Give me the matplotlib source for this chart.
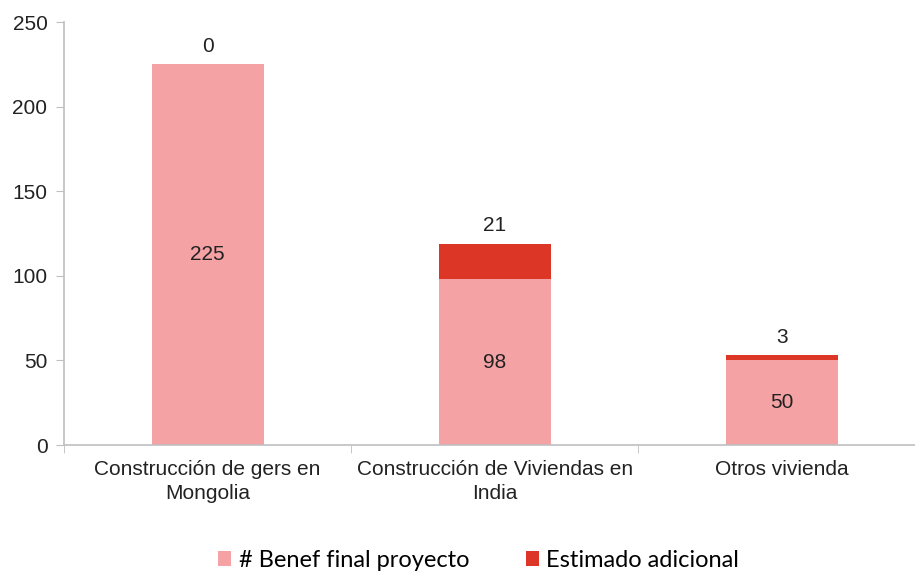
import numpy as np
import matplotlib.pyplot as plt

categories = ['Construcción de gers en\nMongolia', 'Construcción de Viviendas en\nIndia', 'Otros vivienda']
benef_final = [225, 98, 50]
estimado_adicional = [0, 21, 3]

plt.rcParams['font.family'] = ['Liberation Sans', 'DejaVu Sans']

fig = plt.figure(figsize=(9.15, 5.76), dpi=100)
ax = fig.add_axes([0.07, 0.2274, 0.935, 0.7344])

x = np.arange(len(categories))
pink = '#F5A2A5'
red = '#DC3626'
b1 = ax.bar(x, benef_final, width=0.39, color=pink, label='# Benef final proyecto')
b2 = ax.bar(x, estimado_adicional, width=0.39, bottom=benef_final, color=red, label='Estimado adicional')

for i in range(len(categories)):
    ax.text(x[i], benef_final[i] / 2, str(benef_final[i]), ha='center', va='center', fontsize=15, color='#222222')
    top = benef_final[i] + estimado_adicional[i]
    ax.text(x[i], top + 5, str(estimado_adicional[i]), ha='center', va='bottom', fontsize=15, color='#222222')

ax.set_ylim(0, 250)
ax.set_yticks(range(0, 251, 50))
ax.set_xlim(-0.5, 2.48)
ax.set_xticks(x)
ax.set_xticklabels(categories, fontsize=15, color='#222222', linespacing=1.3)
ax.set_xticks([-0.5, 0.5, 1.5], minor=True)
ax.tick_params(axis='x', which='major', length=0, pad=11)
ax.tick_params(axis='x', which='minor', length=6, color='#BFBFBF')
ax.tick_params(axis='y', labelsize=15, labelcolor='#222222', length=6, color='#BFBFBF', pad=6)

for s in ['top', 'right']:
    ax.spines[s].set_visible(False)
for s in ['left', 'bottom']:
    ax.spines[s].set_color('#BFBFBF')
    ax.spines[s].set_linewidth(1.2)

leg = fig.legend(handles=[b1, b2], loc='lower center', bbox_to_anchor=(0.523, -0.028), ncol=2,
                 frameon=False, handlelength=0.55, handleheight=0.6, handletextpad=0.3,
                 columnspacing=2.4, prop={'family': 'Lato', 'size': 17})

fig.savefig('out.png', dpi=100)
